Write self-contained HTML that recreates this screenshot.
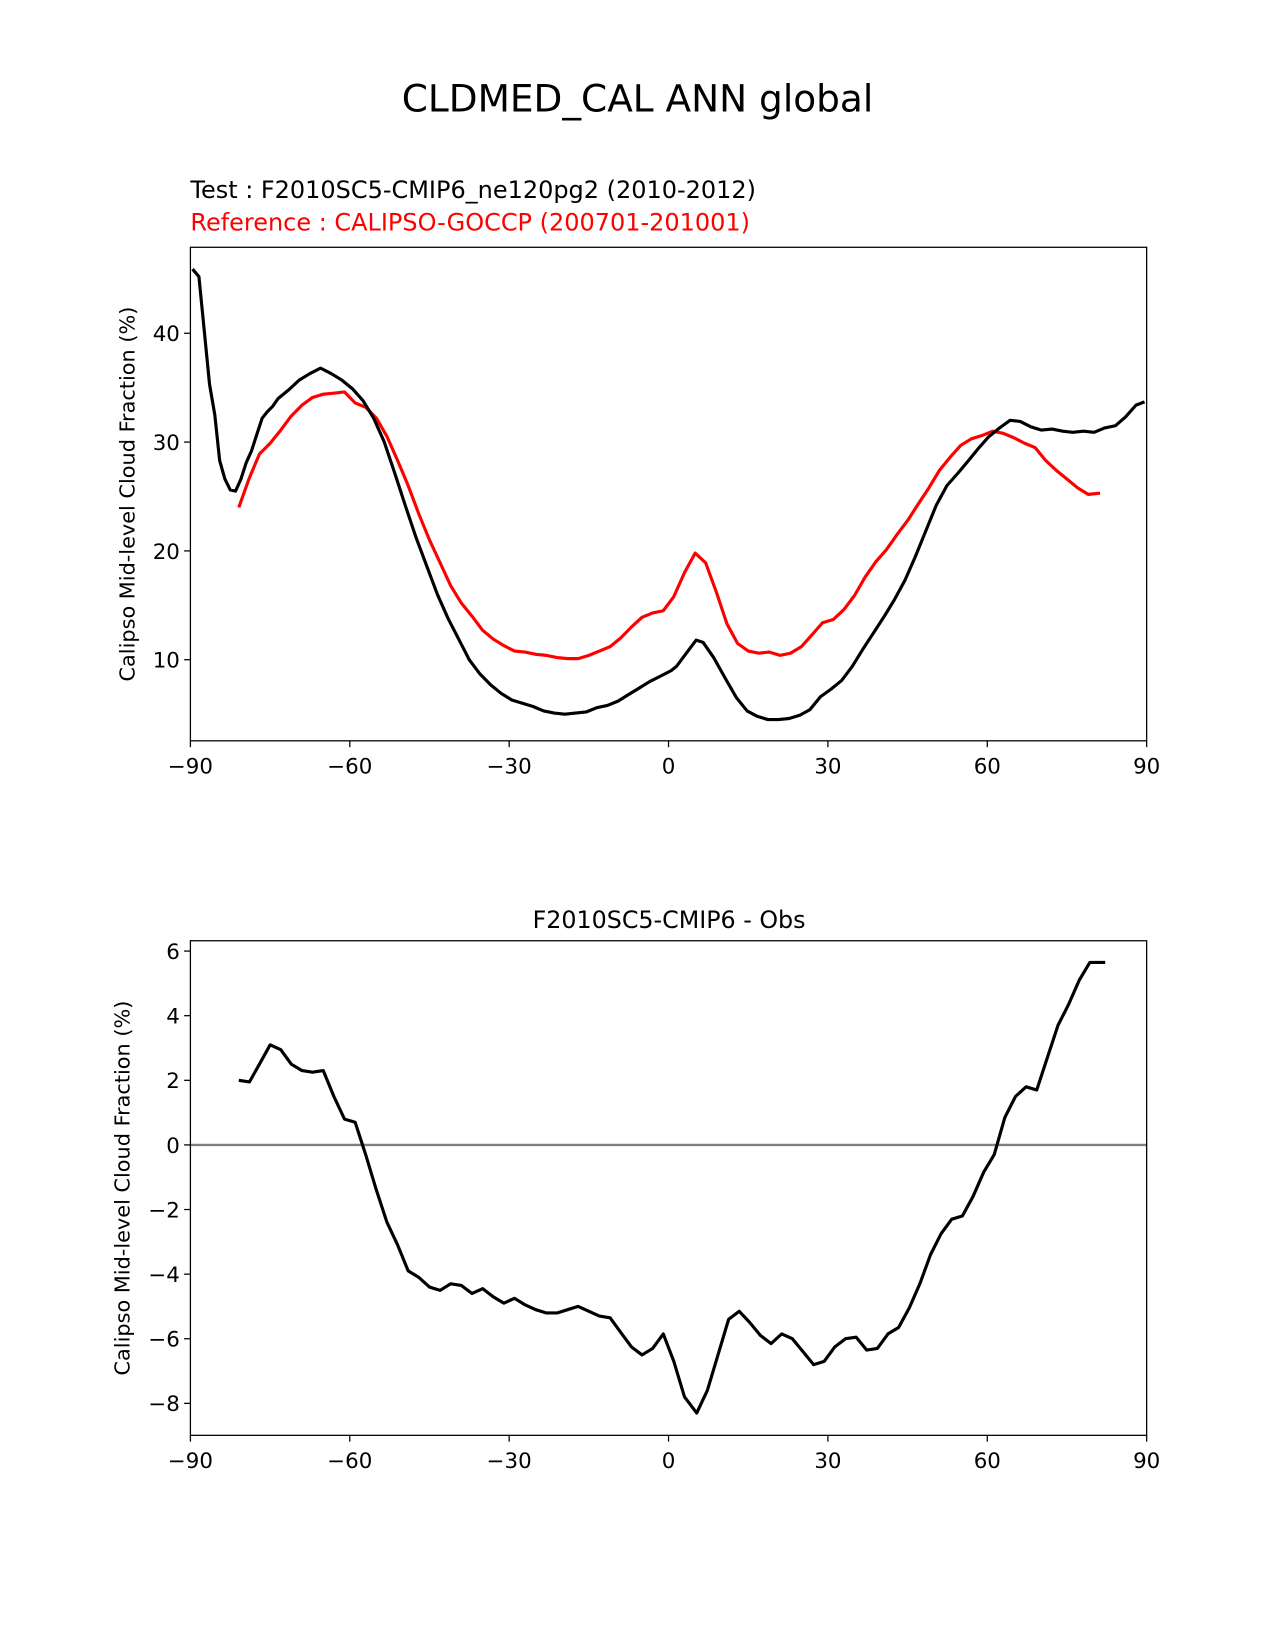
<!DOCTYPE html>
<html><head><meta charset="utf-8">
<style>
html,body{margin:0;padding:0;background:#fff;}
svg{display:block;font-family:"DejaVu Sans","Liberation Sans",sans-serif;}
</style></head>
<body>
<svg id="fig" width="1275" height="1650" viewBox="0 0 1212 1568" preserveAspectRatio="none" xmlns="http://www.w3.org/2000/svg">
<rect width="1212" height="1568" fill="#fff"/>
<text x="606" y="106" font-size="35.6" text-anchor="middle">CLDMED_CAL ANN global</text>
<text x="181" y="188" font-size="22.8">Test : F2010SC5-CMIP6_ne120pg2 (2010-2012)</text>
<text x="181" y="219" font-size="22.8" fill="#ff0000">Reference : CALIPSO-GOCCP (200701-201001)</text>
<text x="636" y="882" font-size="22.6" text-anchor="middle">F2010SC5-CMIP6 - Obs</text>
<g id="top"></g>
<g id="bot"></g>
</svg>
<script>
const xTicks=[-90,-60,-30,0,30,60,90];
const topYTicks=[10,20,30,40];
const botYTicks=[-8,-6,-4,-2,0,2,4,6];
const testLat=[-89.6,-88.4,-86.4,-85.4,-84.5,-83.5,-82.5,-81.5,-80.5,-79.5,-78.5,-77.5,-76.5,-75.5,-74.5,-73.5,-71.5,-69.5,-67.5,-65.5,-63.5,-61.5,-59.5,-57.5,-55.5,-53.5,-51.5,-49.5,-47.5,-45.5,-43.5,-41.5,-39.5,-37.5,-35.5,-33.5,-31.5,-29.5,-27.5,-25.5,-23.5,-21.5,-19.5,-17.5,-15.5,-13.5,-11.5,-9.5,-7.5,-5.5,-3.5,-1.5,0.5,1.5,3.5,5.2,6.5,8.5,10.8,12.8,14.8,16.7,18.7,20.7,22.7,24.7,26.6,28.6,30.6,32.6,34.6,36.5,38.5,40.5,42.5,44.5,46.4,48.4,50.4,52.4,54.4,56.3,58.3,60.3,62.3,64.3,66.2,68.2,70.2,72.2,74.2,76.1,78.1,80.1,82.1,84.1,86,88,89.6];
const testVal=[45.9,45.2,35.3,32.5,28.3,26.6,25.6,25.5,26.6,28.1,29.2,30.7,32.2,32.8,33.3,34.0,34.8,35.7,36.3,36.8,36.3,35.7,34.9,33.8,32.2,30.0,27.1,24.1,21.2,18.6,16.0,13.8,11.9,10.0,8.7,7.7,6.9,6.3,6.0,5.7,5.3,5.1,5.0,5.1,5.2,5.6,5.8,6.2,6.8,7.4,8.0,8.5,9.0,9.4,10.7,11.8,11.6,10.2,8.2,6.5,5.3,4.8,4.5,4.5,4.6,4.9,5.4,6.6,7.3,8.1,9.4,10.9,12.4,13.9,15.5,17.3,19.4,21.8,24.2,26.0,27.1,28.2,29.4,30.5,31.3,32.0,31.9,31.4,31.1,31.2,31.0,30.9,31.0,30.9,31.3,31.5,32.3,33.4,33.7];
const refLat=[-80.9,-79,-77,-75,-73,-71,-69,-67,-65,-63,-61,-59,-57,-55,-53,-51,-49,-47,-45,-43,-41,-39,-37,-35,-33,-31,-29,-27,-25,-23,-21,-19,-17,-15,-13,-11,-9,-7,-5,-3,-1,1,3,5,7,9,11,13,15,17,19,21,23,25,27,29,31,33,35,37,39,41,43,45,47,49,51,53,55,57,59,61,63,65,67,69,71,73,75,77,79,81.2];
const refVal=[24.0,26.6,28.9,29.9,31.1,32.4,33.4,34.1,34.4,34.5,34.6,33.6,33.2,32.2,30.5,28.3,26.0,23.4,21.0,18.9,16.8,15.2,14.0,12.7,11.9,11.3,10.8,10.7,10.5,10.4,10.2,10.1,10.1,10.4,10.8,11.2,12.0,13.0,13.9,14.3,14.5,15.8,18.0,19.8,18.9,16.2,13.3,11.5,10.8,10.6,10.7,10.4,10.6,11.2,12.3,13.4,13.7,14.6,15.9,17.6,19.0,20.1,21.5,22.8,24.3,25.8,27.4,28.6,29.7,30.3,30.6,31.0,30.8,30.4,29.9,29.5,28.3,27.4,26.6,25.8,25.2,25.3];
const diffLat=[-80.9,-78.9,-77,-75,-73,-71,-69,-67,-65,-63,-61,-59,-57,-55,-53,-51,-49,-47,-45,-43,-41,-39,-37,-35,-33,-31,-29,-27,-25,-23,-21,-19,-17,-15,-13,-11,-9,-7,-5,-3,-1,1,3,5.3,7.3,9.3,11.3,13.3,15.3,17.3,19.3,21.3,23.3,25.3,27.3,29.3,31.3,33.3,35.3,37.3,39.3,41.3,43.3,45.3,47.3,49.3,51.3,53.3,55.3,57.3,59.3,61.3,63.3,65.3,67.3,69.3,71.3,73.3,75.3,77.3,79.3,82.2];
const diffVal=[2.0,1.95,2.5,3.1,2.95,2.5,2.3,2.25,2.3,1.5,0.8,0.7,-0.3,-1.4,-2.4,-3.1,-3.9,-4.1,-4.4,-4.5,-4.3,-4.35,-4.6,-4.45,-4.7,-4.9,-4.75,-4.95,-5.1,-5.2,-5.2,-5.1,-5.0,-5.15,-5.3,-5.35,-5.8,-6.25,-6.5,-6.3,-5.85,-6.7,-7.8,-8.3,-7.6,-6.5,-5.4,-5.15,-5.5,-5.9,-6.15,-5.85,-6.0,-6.4,-6.8,-6.7,-6.25,-6.0,-5.95,-6.35,-6.3,-5.85,-5.65,-5.05,-4.3,-3.4,-2.75,-2.3,-2.2,-1.6,-0.85,-0.3,0.85,1.5,1.8,1.7,2.7,3.7,4.35,5.1,5.65,5.65];

const NS="http://www.w3.org/2000/svg";
function mk(parent,tag,attrs){const e=document.createElementNS(NS,tag);for(const k in attrs)e.setAttribute(k,attrs[k]);parent.appendChild(e);return e;}
const X0=181,X1=1090;
const xs=v=>X0+(v+90)/180*(X1-X0);
function fmt(v){return v<0?"\u2212"+Math.abs(v):String(v);}

function panel(g,top,bot,ymin,ymax,yTicks,series,zero,prefix){
  const ys=v=>bot-(v-ymin)/(ymax-ymin)*(bot-top);
  if(zero){
    const z=mk(g,"line",{x1:X0,x2:X1,y1:ys(0),y2:ys(0),stroke:"#808080","stroke-width":2.2});
    
    
  }
  series.forEach(s=>{
    const d=s.lat.map((l,i)=>(i?"L":"M")+xs(l).toFixed(1)+","+ys(s.val[i]).toFixed(1)).join("");
    const p=mk(g,"path",{d:d,fill:"none",stroke:s.color,"stroke-width":3,"stroke-linejoin":"round"});
    
    
  });
  const fr=mk(g,"rect",{x:X0,y:top,width:X1-X0,height:bot-top,fill:"none",stroke:"#000","stroke-width":1.2});
  
  
  xTicks.forEach(t=>{
    mk(g,"line",{x1:xs(t),x2:xs(t),y1:bot,y2:bot+6,stroke:"#000","stroke-width":1.2});
    const tx=mk(g,"text",{x:xs(t),y:bot+31,"font-size":20.3,"text-anchor":"middle"});
    tx.textContent=fmt(t);
    
    
  });
  yTicks.forEach(t=>{
    mk(g,"line",{x1:X0-6,x2:X0,y1:ys(t),y2:ys(t),stroke:"#000","stroke-width":1.2});
    const tx=mk(g,"text",{x:X0-10,y:ys(t)+7.5,"font-size":20.3,"text-anchor":"end"});
    tx.textContent=fmt(t);
    
    
  });
  const cy=(top+bot)/2;
  const yl=mk(g,"text",{x:0,y:0,"font-size":19.8,"text-anchor":"middle",transform:`translate(${prefix==='top'?128:123},${cy}) rotate(-90)`});
  yl.textContent="Calipso Mid-level Cloud Fraction (%)";
  
  
}
panel(document.getElementById("top"),235,704,2.55,47.9,topYTicks,[
  {lat:refLat,val:refVal,color:"#ff0000",name:"reference-line"},
  {lat:testLat,val:testVal,color:"#000",name:"test-line"}],false,"top");
panel(document.getElementById("bot"),894,1364,-8.99,6.32,botYTicks,[
  {lat:diffLat,val:diffVal,color:"#000",name:"difference-line"}],true,"bottom");
</script>
</body></html>
